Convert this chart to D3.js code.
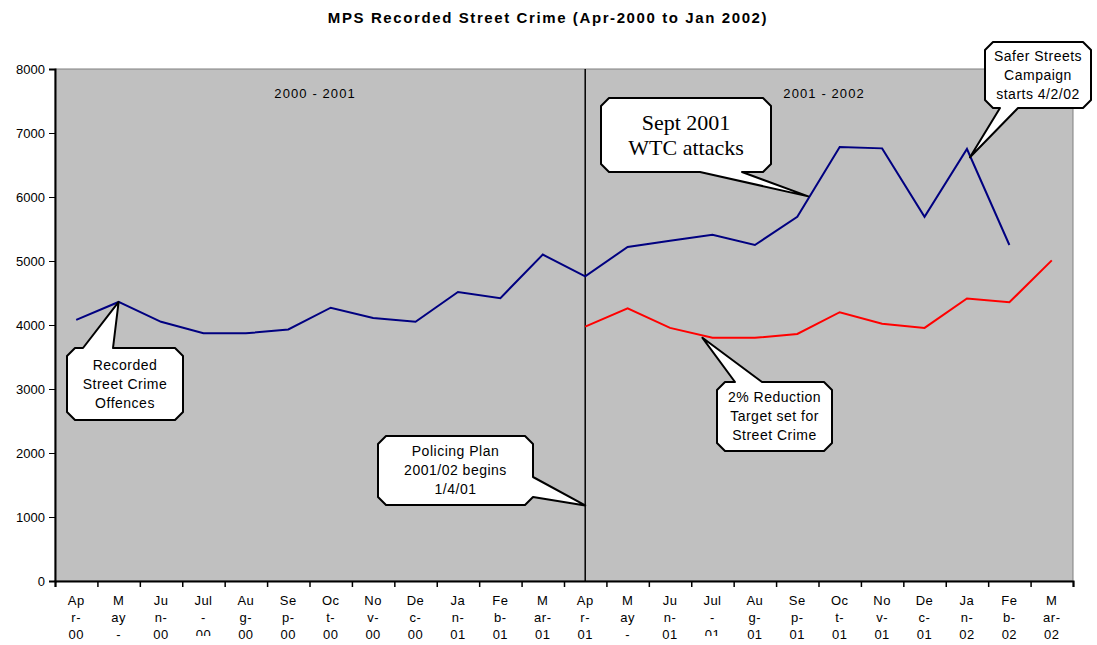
<!DOCTYPE html>
<html>
<head>
<meta charset="utf-8">
<script src="https://cdn.jsdelivr.net/npm/d3@7"></script>
<style>
  body { margin: 0; background: #fff; }
  svg { display: block; font-family: Arial, "Liberation Sans", sans-serif; }
</style>
</head>
<body>
<svg width="1097" height="645"></svg>
<script>
// months along the x axis and their wrapped labels (as drawn by the original)
var months = ["Apr-00","May-00","Jun-00","Jul-00","Aug-00","Sep-00","Oct-00","Nov-00","Dec-00","Jan-01","Feb-01","Mar-01",
              "Apr-01","May-01","Jun-01","Jul-01","Aug-01","Sep-01","Oct-01","Nov-01","Dec-01","Jan-02","Feb-02","Mar-02"];
var monthLabels = [
  ["Ap","r-","00"],["M","ay","-"],["Ju","n-","00"],["Jul","-","00"],["Au","g-","00"],["Se","p-","00"],
  ["Oc","t-","00"],["No","v-","00"],["De","c-","00"],["Ja","n-","01"],["Fe","b-","01"],["M","ar-","01"],
  ["Ap","r-","01"],["M","ay","-"],["Ju","n-","01"],["Jul","-","01"],["Au","g-","01"],["Se","p-","01"],
  ["Oc","t-","01"],["No","v-","01"],["De","c-","01"],["Ja","n-","02"],["Fe","b-","02"],["M","ar-","02"]
];

// recorded street crime offences (blue) and 2% reduction target (red)
var recorded = [4080,4360,4050,3870,3870,3930,4270,4110,4050,4515,4420,5100,
                4760,5220,5315,5410,5250,5690,6780,6760,5690,6750,5250,null];
var target   = [null,null,null,null,null,null,null,null,null,null,null,null,
                3975,4260,3955,3800,3800,3860,4200,4020,3955,4415,4355,5010];

var yTicks = [0,1000,2000,3000,4000,5000,6000,7000,8000];

var svg = d3.select("svg");

var margin = {top: 69, right: 24, bottom: 64, left: 55},
    width = 1097 - margin.left - margin.right,
    height = 645 - margin.top - margin.bottom;

var x = d3.scaleBand().domain(months).range([margin.left, margin.left + width]).padding(0);
var xIdx = d3.scaleLinear().domain([0, months.length]).range([margin.left, margin.left + width]);
var y = d3.scaleLinear().domain([0, 8000]).range([margin.top + height, margin.top]);

function cx(m){ return x(m) + x.bandwidth() / 2; }

// the Jul labels have their last row half cut off in the original
svg.append("defs").append("clipPath").attr("id", "julClip")
    .append("rect").attr("x", 0).attr("y", 0).attr("width", 1097).attr("height", 636);

// title
svg.append("text")
    .attr("x", 548).attr("y", 23)
    .attr("text-anchor", "middle")
    .attr("font-size", "15px").attr("font-weight", "bold")
    .attr("letter-spacing", "1.6px")
    .text("MPS Recorded Street Crime (Apr-2000 to Jan 2002)");

// plot area
svg.append("rect")
    .attr("x", margin.left).attr("y", margin.top)
    .attr("width", width).attr("height", height)
    .attr("fill", "#C0C0C0")
    .attr("stroke", "#808080").attr("stroke-width", 1);

// year divider at Apr-01
svg.append("line")
    .attr("x1", cx("Apr-01")).attr("x2", cx("Apr-01"))
    .attr("y1", y(8000)).attr("y2", y(0))
    .attr("stroke", "black").attr("stroke-width", 1.5);

var halfLabels = [["2000 - 2001", 0, 12], ["2001 - 2002", 12, 24]];
halfLabels.forEach(function(h){
    svg.append("text")
        .attr("x", (cx(months[h[1]]) + xIdx(h[2])) / 2 - 5)
        .attr("y", 98)
        .attr("text-anchor", "middle")
        .attr("font-size", "13px")
        .attr("letter-spacing", "1.1px")
        .text(h[0]);
});

// lines
var valueLine = d3.line()
    .defined(function(d){ return d.v != null; })
    .x(function(d){ return cx(d.m); })
    .y(function(d){ return y(d.v); });

function series(vals){ return months.map(function(m, i){ return {m: m, v: vals[i]}; }); }

svg.append("path").datum(series(recorded))
    .attr("fill", "none").attr("stroke", "#000080").attr("stroke-width", 2)
    .attr("d", valueLine);
svg.append("path").datum(series(target))
    .attr("fill", "none").attr("stroke", "#FF0000").attr("stroke-width", 2)
    .attr("d", valueLine);

// axes
var yAxis = svg.append("g")
    .attr("transform", "translate(" + margin.left + ",0)")
    .call(d3.axisLeft(y).tickValues(yTicks).tickSize(6).tickPadding(4).tickFormat(d3.format("d")));
yAxis.select(".domain").attr("stroke-width", 2);
yAxis.selectAll("text").attr("font-size", "13px").attr("font-family", "Arial, 'Liberation Sans', sans-serif").attr("fill", "black");

var xAxis = svg.append("g")
    .attr("transform", "translate(0," + (margin.top + height) + ")")
    .call(d3.axisBottom(xIdx).tickValues(d3.range(0, months.length + 1)).tickSize(6).tickFormat(""));
xAxis.select(".domain").attr("stroke-width", 2);
xAxis.selectAll(".tick line").attr("stroke-width", 1.5);

var xl = svg.append("g").attr("font-size", "13px");
months.forEach(function(m, i){
    var isJul = m.indexOf("Jul") === 0;
    monthLabels[i].forEach(function(s, j){
        var t = xl.append("text")
            .attr("text-anchor", "middle").attr("letter-spacing", "0.5px")
            .attr("x", cx(m)).attr("y", 605 + j * 17)
            .text(s);
        if (isJul && j === 2) t.attr("clip-path", "url(#julClip)");
    });
});

// callouts: text, anchor point in data terms, box in page pixels, pointer side and base
var calloutText = [
    ["Recorded", "Street Crime", "Offences"],
    ["Policing Plan", "2001/02 begins", "1/4/01"],
    ["Sept 2001", "WTC attacks"],
    ["2% Reduction", "Target set for", "Street Crime"],
    ["Safer Streets", "Campaign", "starts 4/2/02"]
];
var calloutMonth = ["May-00", "Apr-01", "Sep-01", "Jul-01", "Jan-02"];
var calloutValue = [4360, 1180, 6010, 3800, 6620];
var calloutShift = [0, 0, 11, -10, 3];
var calloutBox = [[67,348,183,420],[378,436,533,505],[601,98,771,172],[717,382,832,451],[985,42,1091,108]];
var calloutSide = ["top","right","bottom","top","bottom"];
var calloutBase = [[83,113],[477,497],[700,742],[735,762],[1000,1018]];
var calloutFont = ["14px","14px","22px","14px","14px"];
var calloutSerif = [false,false,true,false,false];

function calloutPath(b, side, base, tip){
    var x0 = b[0], y0 = b[1], x1 = b[2], y1 = b[3], c = 8;
    var p = d3.path();
    p.moveTo(x0 + c, y0);
    if (side === "top"){ p.lineTo(base[0], y0); p.lineTo(tip[0], tip[1]); p.lineTo(base[1], y0); }
    p.lineTo(x1 - c, y0);
    p.lineTo(x1, y0 + c);
    if (side === "right"){ p.lineTo(x1, base[0]); p.lineTo(tip[0], tip[1]); p.lineTo(x1, base[1]); }
    p.lineTo(x1, y1 - c);
    p.lineTo(x1 - c, y1);
    if (side === "bottom"){ p.lineTo(base[1], y1); p.lineTo(tip[0], tip[1]); p.lineTo(base[0], y1); }
    p.lineTo(x0 + c, y1);
    p.lineTo(x0, y1 - c);
    p.lineTo(x0, y0 + c);
    p.closePath();
    return p.toString();
}

calloutText.forEach(function(lines, i){
    var b = calloutBox[i];
    var tip = [cx(calloutMonth[i]) + calloutShift[i], y(calloutValue[i])];
    svg.append("path")
        .attr("d", calloutPath(b, calloutSide[i], calloutBase[i], tip))
        .attr("fill", "white").attr("stroke", "black").attr("stroke-width", 2)
        .attr("stroke-linejoin", "round");
    var fs = parseFloat(calloutFont[i]);
    var lh = calloutSerif[i] ? 25 : 19;
    var midY = (b[1] + b[3]) / 2;
    var t = svg.append("text")
        .attr("text-anchor", "middle")
        .attr("font-size", calloutFont[i])
        .attr("letter-spacing", calloutSerif[i] ? null : "0.5px")
        .attr("font-family", calloutSerif[i] ? "'Times New Roman', 'Liberation Serif', serif" : null);
    lines.forEach(function(s, j){
        t.append("tspan")
            .attr("x", (b[0] + b[2]) / 2)
            .attr("y", midY + (j - (lines.length - 1) / 2) * lh + fs * 0.35)
            .text(s);
    });
});
</script>
</body>
</html>
